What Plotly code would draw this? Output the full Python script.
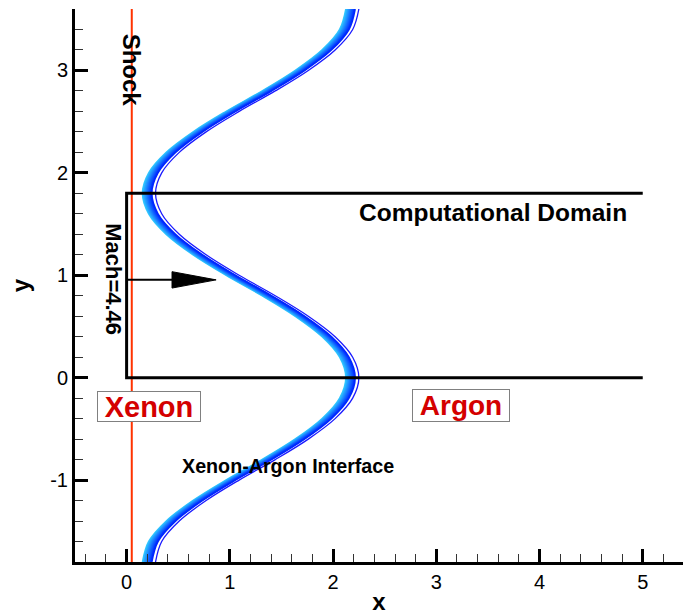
import plotly.graph_objects as go

# ---------------- data ----------------
# Xenon-Argon interface (centre of the contour band), x read at each y
interface_y = [-1.8, -1.6, -1.4, -1.2, -1.0, -0.8, -0.6, -0.4, -0.2, 0.0,
               0.2, 0.4, 0.6, 0.8, 1.0, 1.2, 1.4, 1.6, 1.8,
               2.0, 2.2, 2.4, 2.6, 2.8, 3.0, 3.2, 3.4, 3.6]
interface_x = [0.23, 0.29, 0.46, 0.72, 1.04, 1.39, 1.71, 1.97, 2.14, 2.20,
               2.14, 1.97, 1.71, 1.39, 1.04, 0.72, 0.46, 0.29, 0.23,
               0.29, 0.46, 0.72, 1.04, 1.39, 1.71, 1.97, 2.14, 2.20]

shock_x = [0.05, 0.05]
shock_y = [-1.8, 3.6]

# computational domain outline (open on the right)
domain_x = [5.0, 0.0, 0.0, 5.0]
domain_y = [1.8, 1.8, 0.0, 0.0]

x_tickvals = [0, 1, 2, 3, 4, 5]
x_ticktext = ["0", "1", "2", "3", "4", "5"]
y_tickvals = [-1, 0, 1, 2, 3]
y_ticktext = ["-1", "0", "1", "2", "3"]

# ---------------- styling ----------------
FONT = "Liberation Sans, Arial, Helvetica, sans-serif"
band_offsets = [-0.075, -0.065, -0.055, -0.045, -0.035, -0.025, -0.015, -0.005, 0.005, 0.013]
c0 = (0x30, 0xc8, 0xff)
c1 = (0x00, 0x28, 0xff)
n = len(band_offsets)
band_colors = []
for i in range(n):
    t = i / (n - 1)
    band_colors.append("rgb(%d,%d,%d)" % tuple(round(a + (b - a) * t) for a, b in zip(c0, c1)))

fig = go.Figure()

# contour band of the interface
for off, col in zip(band_offsets, band_colors):
    fig.add_trace(go.Scatter(x=[v + off for v in interface_x], y=interface_y,
                             mode="lines", line=dict(color=col, width=1.8, shape="spline"),
                             hoverinfo="skip", showlegend=False))
fig.add_trace(go.Scatter(x=[v + 0.05 for v in interface_x], y=interface_y,
                         mode="lines", line=dict(color="#1a1aff", width=1.3, shape="spline"),
                         hoverinfo="skip", showlegend=False))

# shock
fig.add_trace(go.Scatter(x=shock_x, y=shock_y, mode="lines",
                         line=dict(color="#ff3300", width=2), hoverinfo="skip", showlegend=False))

# computational domain
fig.add_trace(go.Scatter(x=domain_x, y=domain_y, mode="lines",
                         line=dict(color="black", width=3), hoverinfo="skip", showlegend=False))

# arrow (Mach direction)
ARROW_Y = 0.955
fig.add_shape(type="line", x0=0.0, x1=0.46, y0=ARROW_Y, y1=ARROW_Y,
              line=dict(color="black", width=2))
fig.add_shape(type="path",
              path=f"M 0.44 {ARROW_Y + 0.08} L 0.867 {ARROW_Y} L 0.44 {ARROW_Y - 0.08} Z",
              fillcolor="black", line=dict(color="black", width=1))

def label(text, x, y, size, color="black", angle=0, **kw):
    fig.add_annotation(x=x, y=y, text=f"<b>{text}</b>", showarrow=False,
                       textangle=angle, font=dict(family=FONT, size=size, color=color), **kw)

label("Shock", 0.05, 3.0, 24, angle=90)
label("Mach=4.46", -0.135, 0.965, 22, angle=90)
label("Computational Domain", 3.55, 1.61, 24.5)
label("Xenon-Argon Interface", 1.56, -0.865, 19.7)
label("Xenon", 0.22, -0.282, 29, color="#d40000", bgcolor="white",
      bordercolor="#808080", borderwidth=1, borderpad=0, width=102, height=29)
label("Argon", 3.24, -0.275, 28, color="#d40000", bgcolor="white",
      bordercolor="#808080", borderwidth=1, borderpad=0, width=96, height=31)

axis_common = dict(showgrid=False, zeroline=False, showline=True, linecolor="black",
                   linewidth=3, ticks="inside", ticklen=13, tickwidth=2.5, tickcolor="black",
                   tickfont=dict(family=FONT, size=20, color="black"),
                   tickmode="array", mirror=False)

fig.update_layout(
    width=683, height=615,
    margin=dict(l=75, r=0, t=9, b=49),
    paper_bgcolor="white", plot_bgcolor="white",
    xaxis=dict(range=[-0.5, 5.39], tickvals=x_tickvals, ticktext=x_ticktext,
               title=dict(text="<b>x</b>", font=dict(family=FONT, size=24, color="black"), standoff=5),
               minor=dict(tickmode="linear", tick0=0, dtick=0.2, ticks="inside", ticklen=8,
                          tickwidth=1, tickcolor="#333"),
               **axis_common),
    yaxis=dict(range=[-1.8, 3.6], tickvals=y_tickvals, ticktext=y_ticktext,
               title=dict(text="<b>y</b>", font=dict(family=FONT, size=24, color="black"), standoff=14),
               minor=dict(tickmode="linear", tick0=0, dtick=0.2, ticks="inside", ticklen=8,
                          tickwidth=1, tickcolor="#333"),
               **axis_common),
)

fig.write_html("out.html")
